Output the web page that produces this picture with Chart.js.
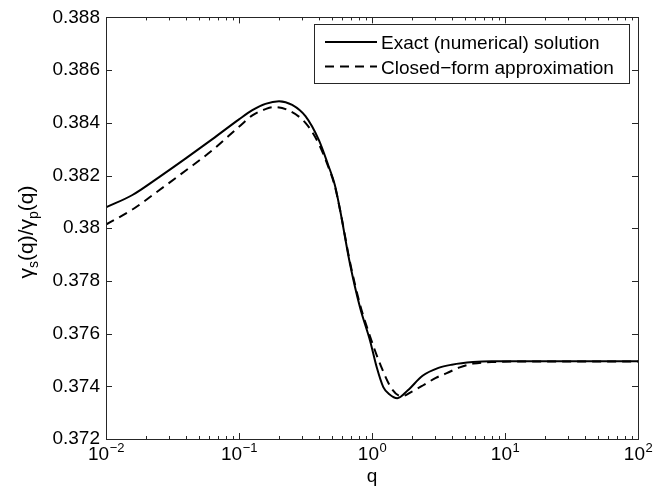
<!DOCTYPE html>
<html>
<head>
<meta charset="utf-8">
<script src="https://cdn.jsdelivr.net/npm/chart.js@4.4.1/dist/chart.umd.min.js"></script>
<style>
  html, body { margin: 0; padding: 0; background: #fff; }
  #wrap { width: 667px; height: 495px; }
</style>
</head>
<body>
<div id="wrap"><canvas id="chart" width="667" height="495"></canvas></div>
<script>
// Values (q on a log axis, ratio gamma_s/gamma_p)
const qExact = [0.01, 0.0158, 0.0251, 0.0398, 0.0631, 0.1, 0.126, 0.158, 0.2, 0.251, 0.316, 0.398, 0.468, 0.525, 0.575, 0.684, 0.813, 0.966, 1.084, 1.216, 1.35, 1.55, 1.86, 2.4, 3.16, 3.98, 5.75, 7.94, 15.8, 100];
const exactRatio = [0.38079, 0.38126, 0.38194, 0.38265, 0.38338, 0.38413, 0.38448, 0.38472, 0.38482, 0.38468, 0.38425, 0.38335, 0.38240, 0.38165, 0.38070, 0.37863, 0.37699, 0.37574, 0.37473, 0.37397, 0.37370, 0.37355, 0.37385, 0.37440, 0.37470, 0.37482, 0.37492, 0.37495, 0.37495, 0.37495];

const qApprox = [0.01, 0.0158, 0.0251, 0.0398, 0.0631, 0.1, 0.126, 0.158, 0.182, 0.229, 0.316, 0.398, 0.468, 0.525, 0.575, 0.684, 0.813, 0.966, 1.148, 1.406, 1.671, 1.995, 2.43, 3.02, 3.65, 4.57, 5.78, 7.94, 15.8, 100];
const approxRatio = [0.38014, 0.38071, 0.38144, 0.38219, 0.38296, 0.38385, 0.38428, 0.38452, 0.38460, 0.38450, 0.38400, 0.38320, 0.38235, 0.38160, 0.38070, 0.37870, 0.37710, 0.37590, 0.37486, 0.37391, 0.37362, 0.37380, 0.37404, 0.37432, 0.37450, 0.37472, 0.37486, 0.37492, 0.37494, 0.37494];

const seriesLabels = ["Exact (numerical) solution", "Closed\u2212form approximation"];
const xTickExponents = [-2, -1, 0, 1, 2];
const yMin = 0.372, yMax = 0.388, yStep = 0.002;

const FONT = "'Liberation Sans', Arial, Helvetica, sans-serif";
const AXIS_COLOR = "#262626";

function toPoints(xs, ys) {
    return xs.map((x, i) => ({ x: x, y: ys[i] }));
}

// Draws the MATLAB-like box, inward ticks, x labels with exponents, y title and legend
const matlabLook = {
    id: "matlabLook",
    afterDraw(chart) {
        const ctx = chart.ctx;
        const area = chart.chartArea;
        const xs = chart.scales.x;
        const ys = chart.scales.y;

        ctx.save();
        ctx.strokeStyle = AXIS_COLOR;
        ctx.lineWidth = 1;

        // box
        ctx.strokeRect(Math.round(area.left) + 0.5, Math.round(area.top) + 0.5,
            Math.round(area.right - area.left), Math.round(area.bottom - area.top));

        // x ticks (major + minor), bottom and top, pointing inward
        ctx.beginPath();
        for (let d = -2; d <= 2; d++) {
            for (let k = 1; k <= 9; k++) {
                const v = k * Math.pow(10, d);
                if (v > 100) break;
                const px = Math.round(xs.getPixelForValue(v)) + 0.5;
                const len = k === 1 ? 6 : 3;
                ctx.moveTo(px, area.bottom);
                ctx.lineTo(px, area.bottom - len);
                ctx.moveTo(px, area.top);
                ctx.lineTo(px, area.top + len);
            }
        }
        // y ticks, left and right
        ys.ticks.forEach(t => {
            const py = Math.round(ys.getPixelForValue(t.value)) + 0.5;
            ctx.moveTo(area.left, py);
            ctx.lineTo(area.left + 6, py);
            ctx.moveTo(area.right, py);
            ctx.lineTo(area.right - 6, py);
        });
        ctx.stroke();

        // x tick labels: 10 with a raised exponent
        ctx.fillStyle = "#000";
        ctx.textBaseline = "alphabetic";
        xTickExponents.forEach(e => {
            const px = xs.getPixelForValue(Math.pow(10, e));
            const base = "10";
            const exp = e < 0 ? "\u2212" + (-e) : String(e);
            ctx.font = "19px " + FONT;
            const wb = ctx.measureText(base).width;
            ctx.font = "13px " + FONT;
            const we = ctx.measureText(exp).width;
            const x0 = px - (wb + we) / 2;
            ctx.font = "19px " + FONT;
            ctx.textAlign = "left";
            ctx.fillText(base, x0, area.bottom + 21);
            ctx.font = "13px " + FONT;
            ctx.fillText(exp, x0 + wb + 0.5, area.bottom + 13);
        });

        // y axis title: gamma_s(q)/gamma_p(q)
        const parts = [
            { t: "\u03b3", size: 21, dy: 0 },
            { t: "s", size: 14, dy: 5 },
            { t: "(q)/", size: 21, dy: 0 },
            { t: "\u03b3", size: 21, dy: 0 },
            { t: "p", size: 14, dy: 5 },
            { t: "(q)", size: 21, dy: 0 }
        ];
        let total = 0;
        parts.forEach(p => {
            ctx.font = p.size + "px " + FONT;
            p.w = ctx.measureText(p.t).width;
            total += p.w;
        });
        ctx.translate(33, 232);
        ctx.rotate(-Math.PI / 2);
        let cx = -total / 2;
        ctx.textAlign = "left";
        parts.forEach(p => {
            ctx.font = p.size + "px " + FONT;
            ctx.fillText(p.t, cx, p.dy);
            cx += p.w;
        });
        ctx.restore();

        // legend box
        ctx.save();
        const lx = 314.5, ly = 24.5, lw = 315, lh = 59;
        ctx.fillStyle = "#fff";
        ctx.fillRect(lx, ly, lw, lh);
        ctx.strokeStyle = AXIS_COLOR;
        ctx.lineWidth = 1;
        ctx.strokeRect(lx, ly, lw, lh);
        const rows = [42, 66.5];
        chart.data.datasets.forEach((ds, i) => {
            ctx.beginPath();
            ctx.strokeStyle = ds.borderColor;
            ctx.lineWidth = ds.borderWidth;
            ctx.setLineDash(ds.borderDash || []);
            ctx.moveTo(325, rows[i]);
            ctx.lineTo(377, rows[i]);
            ctx.stroke();
            ctx.setLineDash([]);
            ctx.fillStyle = "#000";
            ctx.font = "19px " + FONT;
            ctx.textAlign = "left";
            ctx.textBaseline = "alphabetic";
            ctx.fillText(ds.label, 381, rows[i] + 7);
        });
        ctx.restore();
    }
};

const ctx = document.getElementById("chart").getContext("2d");
const chart = new Chart(ctx, {
    type: "line",
    data: {
        datasets: [
            {
                label: seriesLabels[0],
                data: toPoints(qExact, exactRatio),
                borderColor: "#000",
                borderWidth: 2,
                pointRadius: 0,
                fill: false,
                cubicInterpolationMode: "monotone"
            },
            {
                label: seriesLabels[1],
                data: toPoints(qApprox, approxRatio),
                borderColor: "#000",
                borderWidth: 2,
                borderDash: [9, 6],
                pointRadius: 0,
                fill: false,
                cubicInterpolationMode: "monotone"
            }
        ]
    },
    options: {
        responsive: false,
        animation: false,
        devicePixelRatio: 1,
        layout: {
            padding: { top: 15, right: 29, bottom: 0, left: 50 }
        },
        plugins: {
            legend: { display: false },
            tooltip: { enabled: false }
        },
        scales: {
            x: {
                type: "logarithmic",
                min: 0.01,
                max: 100,
                grid: { display: false, drawTicks: false },
                border: { display: false },
                ticks: { display: false },
                title: {
                    display: true,
                    text: "q",
                    color: "#000",
                    font: { family: FONT, size: 19 },
                    padding: { top: 0, bottom: 7 }
                },
                afterFit(scale) { scale.height = 56; }
            },
            y: {
                min: yMin,
                max: yMax,
                grid: { display: false, drawTicks: false },
                border: { display: false },
                ticks: {
                    stepSize: yStep,
                    padding: 6,
                    color: "#000",
                    font: { family: FONT, size: 19 },
                    callback: v => String(+v.toFixed(3))
                },
                afterFit(scale) { scale.width = 56; }
            }
        }
    },
    plugins: [matlabLook]
});
</script>
</body>
</html>
